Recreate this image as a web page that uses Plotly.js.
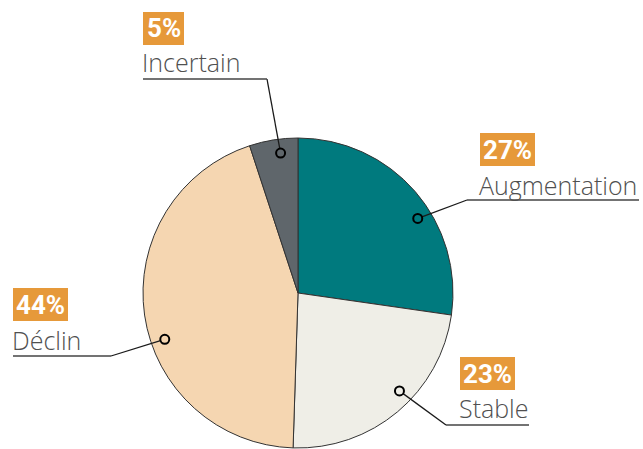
<!DOCTYPE html>
<html><head><meta charset="utf-8">
<script src="https://cdn.plot.ly/plotly-3.0.1.min.js"></script>
<style>html,body{margin:0;padding:0;background:#fff}#chart{width:643px;height:449px}</style>
</head><body><div id="chart"></div>
<script>
// ---- data ----
const categories = ['Augmentation', 'Stable', 'Déclin', 'Incertain'];
const percents = [27, 23, 44, 5];
const sliceColors = ['#007A7E', '#EFEEE7', '#F5D6B1', '#5F666B'];

// ---- layout (pixels) ----
const W = 643, H = 449;
const CX = 298, CY = 293, R = 155;
const labelPos = [
  {boxX: 480, boxTop: 133, base: 193, lineY: 200, elbowX: 467, endX: 639, nudge: 9},
  {boxX: 460, boxTop: 357, base: 416, lineY: 425, elbowX: 446, endX: 529, nudge: -6},
  {boxX: 13,  boxTop: 288, base: 348, lineY: 356, elbowX: 111, endX: 13,  nudge: -11},
  {boxX: 143, boxTop: 12,  base: 70,  lineY: 79,  elbowX: 267, endX: 143, nudge: 2}
];
const BOX_H = 33;
const px = x => x / W, py = y => 1 - y / H;

const total = percents.reduce((a, b) => a + b, 0);
const shapes = [], annotations = [];
let cum = 0;
const MR = 4.5;
percents.forEach((v, i) => {
  const L = labelPos[i];
  const ang = ((cum + v / 2) / total * 360 + L.nudge) * Math.PI / 180;
  cum += v;
  const mx = CX + 0.91 * R * Math.sin(ang), my = CY - 0.91 * R * Math.cos(ang);
  const dx = L.elbowX - mx, dy = L.lineY - my, d = Math.hypot(dx, dy);
  const sx = mx + dx / d * MR, sy = my + dy / d * MR;
  shapes.push({type: 'line', xref: 'paper', yref: 'paper', x0: px(sx), y0: py(sy), x1: px(L.elbowX), y1: py(L.lineY), line: {color: '#1a1a1a', width: 1.3}});
  shapes.push({type: 'line', xref: 'paper', yref: 'paper', x0: px(L.elbowX), y0: py(L.lineY), x1: px(L.endX), y1: py(L.lineY), line: {color: '#444', width: 1.3}});
  shapes.push({type: 'circle', xref: 'paper', yref: 'paper', x0: px(mx - MR), x1: px(mx + MR), y0: py(my + MR), y1: py(my - MR), line: {color: '#000', width: 2}, fillcolor: 'rgba(0,0,0,0)'});
  const boxW = 27 + 14 * String(v).length;
  shapes.push({type: 'rect', xref: 'paper', yref: 'paper', x0: px(L.boxX), x1: px(L.boxX + boxW), y0: py(L.boxTop + BOX_H), y1: py(L.boxTop),
    line: {width: 0}, fillcolor: '#E6993A', layer: 'below'});
  annotations.push({xref: 'paper', yref: 'paper', x: px(L.boxX + boxW / 2), y: py(L.boxTop + BOX_H / 2), xanchor: 'center', yanchor: 'middle', showarrow: false,
    text: '<b>' + v + '%</b>', borderpad: 0,
    font: {family: 'Roboto, sans-serif', size: 26, color: '#fff'}});
  annotations.push({xref: 'paper', yref: 'paper', x: px(L.boxX - 2), y: py(L.base - 8), xanchor: 'left', yanchor: 'middle', showarrow: false,
    text: categories[i], borderpad: 0,
    font: {family: 'Open Sans, sans-serif', size: 25, color: '#505050', weight: 300}});
});

Plotly.newPlot('chart', [{
  type: 'pie', values: percents, labels: categories, sort: false, direction: 'clockwise', rotation: 0,
  marker: {colors: sliceColors, line: {color: '#333', width: 1}},
  textinfo: 'none', hoverinfo: 'none', showlegend: false,
  domain: {x: [px(CX - R), px(CX + R)], y: [py(CY + R), py(CY - R)]}
}], {
  width: W, height: H, margin: {l: 0, r: 0, t: 0, b: 0},
  paper_bgcolor: '#fff', showlegend: false, shapes: shapes, annotations: annotations
}, {staticPlot: true});
</script></body></html>
